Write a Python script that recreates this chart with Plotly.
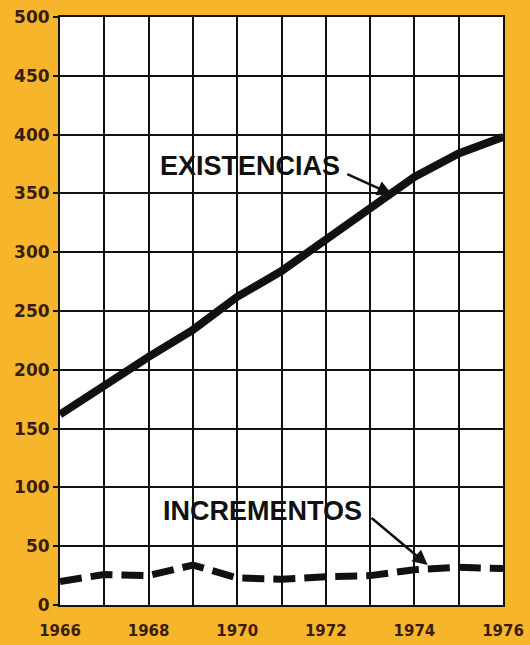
import plotly.graph_objects as go

years = [1966, 1967, 1968, 1969, 1970, 1971, 1972, 1973, 1974, 1975, 1976]
existencias = [162, 187, 211, 234, 262, 284, 310, 336, 364, 384, 398]
incrementos = [20, 26, 25, 34, 23, 22, 24, 25, 30, 32, 31]
y_ticks = [0, 50, 100, 150, 200, 250, 300, 350, 400, 450, 500]
x_ticks = [1966, 1968, 1970, 1972, 1974, 1976]

BG = "#F7B52C"
TXT = "#3a1d0c"

fig = go.Figure()
fig.add_trace(go.Scatter(x=years, y=existencias, mode="lines",
                         line=dict(color="#111111", width=8), showlegend=False))
fig.add_trace(go.Scatter(x=years, y=incrementos, mode="lines",
                         line=dict(color="#111111", width=7, dash="22px,9px"), showlegend=False))

lab_font = dict(family="Liberation Sans", size=27, color="#111111")
fig.add_annotation(x=1970.29, y=373, text="<b>EXISTENCIAS</b>", showarrow=False, font=lab_font)
fig.add_annotation(x=1970.56, y=80, text="<b>INCREMENTOS</b>", showarrow=False, font=lab_font)
fig.add_annotation(x=1973.5, y=349, ax=1972.45, ay=367, axref="x", ayref="y",
                   text="", showarrow=True, arrowhead=2, arrowsize=1.2, arrowwidth=2.5,
                   arrowcolor="#111111")
fig.add_annotation(x=1974.3, y=34, ax=1973.0, ay=75, axref="x", ayref="y",
                   text="", showarrow=True, arrowhead=2, arrowsize=1.2, arrowwidth=2.5,
                   arrowcolor="#111111")

fig.update_layout(
    width=530, height=645,
    margin=dict(l=60, r=27, t=17, b=40, autoexpand=False),
    paper_bgcolor=BG, plot_bgcolor="white",
    font=dict(family="DejaVu Sans", color=TXT),
)
fig.update_xaxes(range=[1966, 1976], tickvals=x_ticks, ticktext=[str(v) for v in x_ticks],
                 showgrid=True, gridcolor="#111111", gridwidth=1.5,
                 showline=True, linecolor="#111111", linewidth=2, mirror=True,
                 ticks="", ticklabelstandoff=11, automargin=False,
                 tickfont=dict(family="DejaVu Sans", size=15, color=TXT, weight="bold"),
                 zeroline=False)
fig.update_xaxes(minor=dict(tickvals=years, showgrid=True, gridcolor="#111111", gridwidth=1.5))
fig.update_yaxes(range=[0, 500], tickvals=y_ticks, ticktext=[str(v) for v in y_ticks],
                 showgrid=True, gridcolor="#111111", gridwidth=1.5,
                 showline=True, linecolor="#111111", linewidth=2, mirror=True,
                 ticks="outside", ticklen=5, tickcolor="#111111", tickwidth=1.5,
                 ticklabelstandoff=0, automargin=False,
                 tickfont=dict(family="DejaVu Sans", size=17, color=TXT, weight="bold"),
                 zeroline=False)

fig.write_html("out.html", config={"displayModeBar": False},
               post_script="document.body.style.margin='0';document.body.style.overflow='hidden';")
